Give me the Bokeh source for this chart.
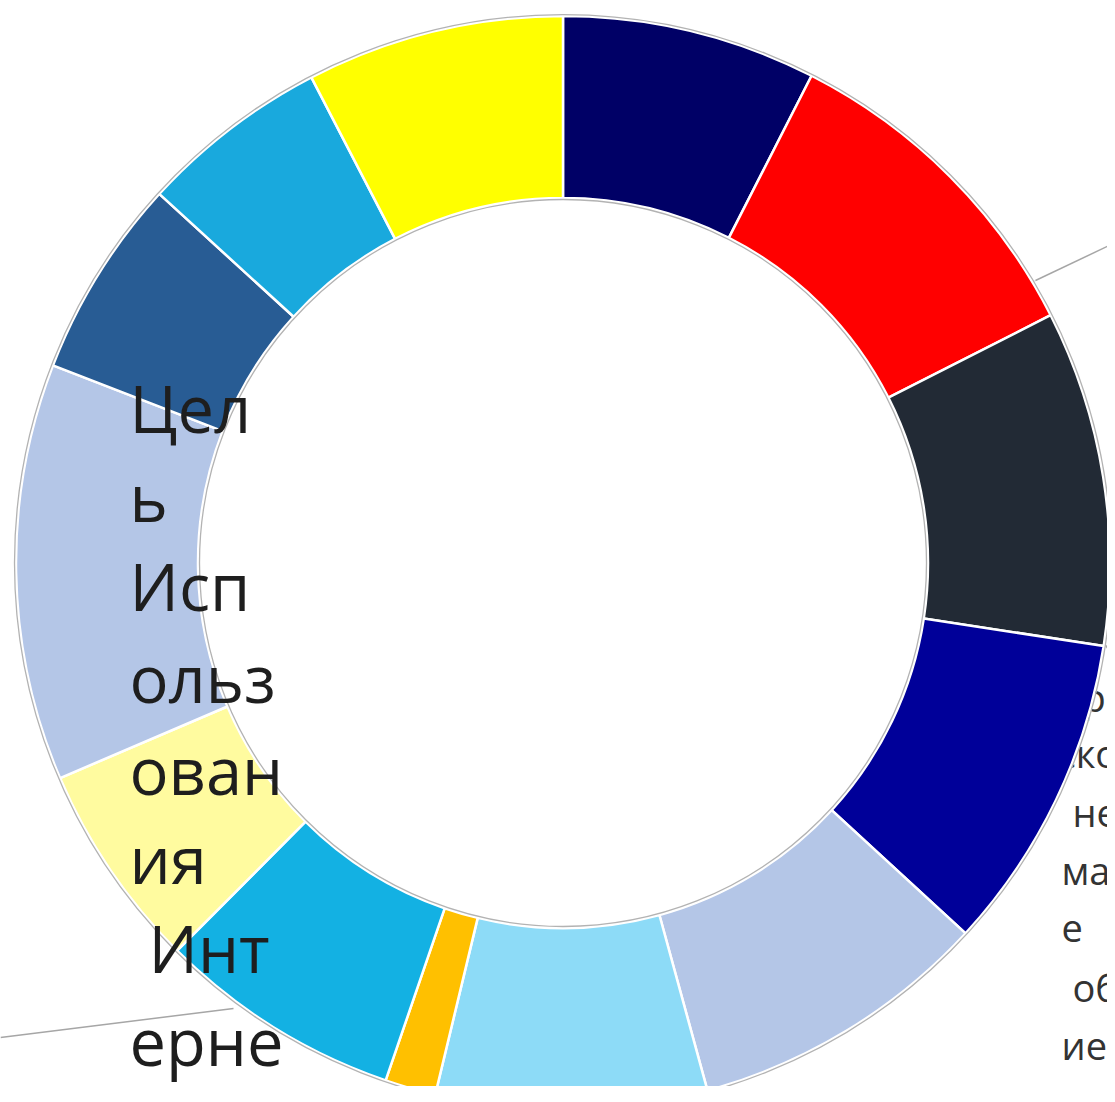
import numpy as np
from bokeh.plotting import figure
from bokeh.models import Range1d, ColumnDataSource
from bokeh.core.properties import value
from bokeh.embed import file_html
from bokeh.resources import INLINE

# ---- data (shares of the ring, clockwise from 12 o'clock) ----
shares = [7.5, 10.0, 9.9, 9.4, 8.9, 8.0, 1.5, 7.2, 6.1, 12.3, 5.9, 5.6, 7.6]
colors = ["#000066", "#ff0000", "#222a35", "#000099", "#b4c6e7", "#8ddbf7",
          "#ffc000", "#13b1e3", "#fffb9f", "#b4c6e7", "#285c94", "#19a9dd", "#ffff00"]
left_label_lines = ["Цел", "ь", "Исп", "ольз", "ован", "ия", "Инт", "ерне", "та"]
right_label_lines = ["ар", "ско", "не", "мал", "е", "об", "ие"]

# ---- layout (picture px -> data: x = X, y = 1102 - Y) ----
W, H = 1107, 1086
def sy(Y):
    return 1102 - Y

cx, cy = 562.5, sy(562.5)
r_in, r_out = 365, 547

p = figure(width=W, height=H, x_range=Range1d(0, W), y_range=Range1d(1102 - H, 1102),
           output_backend="svg", toolbar_location=None, min_border=0,
           x_axis_location=None, y_axis_location=None)
p.grid.visible = False
p.outline_line_color = None
p.background_fill_color = "white"
p.border_fill_color = "white"

# right-hand label (drawn beneath the ring)
R_FS = 38
r_off = 0.4 * R_FS
rsrc = ColumnDataSource(dict(
    x=[1061, 1057, 1072, 1061, 1061, 1072, 1061],
    y=[sy(Y - r_off) for Y in [712, 768, 827, 885, 942, 1002, 1060]],
    text=right_label_lines))
p.text(x="x", y="y", text="text", source=rsrc, text_font=value("Open Sans"),
       text_font_size=f"{R_FS}px", text_color="#333333", text_baseline="alphabetic",
       text_align="left")

# leader lines
p.line([1115, 1035], [sy(242), sy(280)], line_color="#a6a6a6", line_width=1.5)
p.line([1035, 930], [sy(280), sy(326)], line_color="#000000", line_alpha=0.08, line_width=1.5)
p.line([1037, 1100], [sy(523), sy(637)], line_color="#ffffff", line_alpha=0.15, line_width=1.5)
p.line([1100, 1115], [sy(637), sy(660)], line_color="#a6a6a6", line_width=1.5)
p.line([0, 233], [sy(1037), sy(1008)], line_color="#a6a6a6", line_width=1.5)

# ring
vals = np.array(shares, dtype=float)
cum = np.concatenate([[0], np.cumsum(vals)]) / vals.sum() * 2 * np.pi
theta1, theta2 = cum[:-1], cum[1:]
src = ColumnDataSource(dict(start=np.pi / 2 - theta2, end=np.pi / 2 - theta1, color=colors))
p.annular_wedge(x=cx, y=cy, inner_radius=r_in, outer_radius=r_out,
                start_angle="start", end_angle="end", fill_color="color",
                line_color="white", line_width=2.5, source=src)
p.circle(x=[cx], y=[cy], radius=r_out + 1.5, fill_color=None, line_color="#b3b3b3", line_width=1.3)
p.circle(x=[cx], y=[cy], radius=r_in - 1.5, fill_color=None, line_color="#b3b3b3", line_width=1.3)

# left label (on top of the ring)
L_FS = 65
l_off = 0.4 * L_FS
lsrc = ColumnDataSource(dict(
    x=[129, 129, 129, 129, 129, 129, 148, 129, 129],
    y=[sy(Y - l_off) for Y in [433, 522, 611, 703, 795, 884, 973, 1066, 1157]],
    text=left_label_lines))
p.text(x="x", y="y", text="text", source=lsrc, text_font=value("Open Sans"),
       text_font_size=f"{L_FS}px", text_color="#1e1e1e", text_baseline="alphabetic",
       text_align="left")

open("out.html", "w").write(file_html(p, INLINE))
